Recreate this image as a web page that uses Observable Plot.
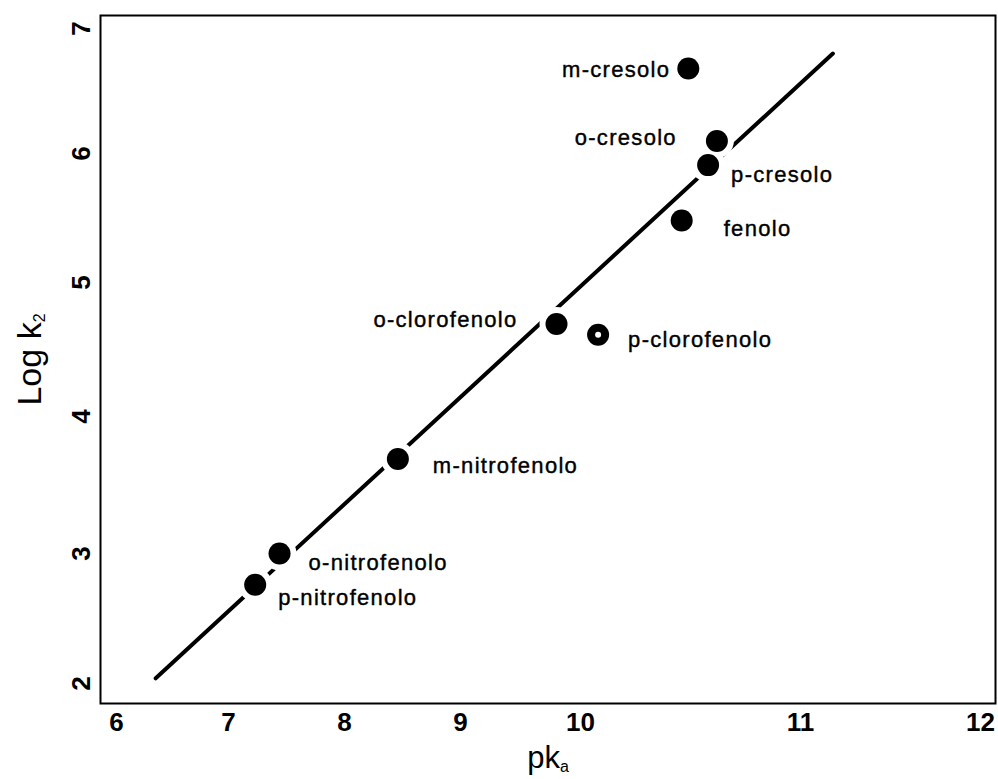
<!DOCTYPE html>
<html><head><meta charset="utf-8">
<script src="https://cdn.jsdelivr.net/npm/d3@7"></script>
<script src="https://cdn.jsdelivr.net/npm/@observablehq/plot@0.6"></script>
<style>
body{margin:0;background:#fff}
#chart svg{font-family:"Liberation Sans",Arial,Helvetica,sans-serif;color:#000;background:#fff}
#chart .lbl text{letter-spacing:1.3px}
</style></head><body><div id="chart"></div>
<script>
// data
const compounds = ["m-cresolo","o-cresolo","p-cresolo","fenolo","o-clorofenolo","p-clorofenolo","m-nitrofenolo","o-nitrofenolo","p-nitrofenolo"];
const pKa   = [10.49, 10.62, 10.58, 10.46, 9.80, 10.08, 8.46, 7.44, 7.23];
const logK2 = [6.68, 6.10, 5.91, 5.48, 4.69, 4.61, 3.69, 3.00, 2.76];
const hollow = ["p-clorofenolo"];
const fitPKa = [6.35, 11.18];
const fitLogK2 = [2.04, 6.80];
const xTicks = [6, 7, 8, 9, 10, 11, 12];
const yTicks = [2, 3, 4, 5, 6, 7];

// label placement (layout only)
const labelLayout = {
  "m-cresolo":     {anchor: "end",   dx: -18, dy: 1},
  "o-cresolo":     {anchor: "end",   dx: -40, dy: -3},
  "p-cresolo":     {anchor: "start", dx: 23,  dy: 10},
  "fenolo":        {anchor: "start", dx: 42,  dy: 8},
  "o-clorofenolo": {anchor: "end",   dx: -39, dy: -4},
  "p-clorofenolo": {anchor: "start", dx: 30,  dy: 5},
  "m-nitrofenolo": {anchor: "start", dx: 35,  dy: 7},
  "o-nitrofenolo": {anchor: "start", dx: 29,  dy: 9},
  "p-nitrofenolo": {anchor: "start", dx: 23,  dy: 13}
};

const points = compounds.map((name, i) => ({name, pKa: pKa[i], logK2: logK2[i]}));
const fit = fitPKa.map((x, i) => ({pKa: x, logK2: fitLogK2[i]}));

const labelMarks = points.map(p => {
  const L = labelLayout[p.name];
  return Plot.text([p], {x: "pKa", y: "logK2", text: "name", textAnchor: L.anchor,
    dx: L.dx, dy: L.dy, fontSize: 22, fill: "#000", stroke: "#000", strokeWidth: 0.4, className: "lbl"});
});

const chart = Plot.plot({
  width: 998,
  height: 779,
  marginLeft: 100,
  marginRight: 3,
  marginTop: 15,
  marginBottom: 76,
  style: {background: "#fff"},
  x: {type: "linear", domain: xTicks, range: [116, 228, 344, 460, 580, 800, 980]},
  y: {type: "linear", domain: yTicks, range: [683, 553, 416, 282, 153, 28]},
  marks: [
    Plot.frame({stroke: "#000", strokeWidth: 2}),
    Plot.axisX(xTicks, {tickSize: 0, tickPadding: 9, fontSize: 26, fontWeight: "bold", tickFormat: d3.format("d"), label: null}),
    Plot.axisY(yTicks, {tickSize: 0, tickPadding: 11, tickRotate: -90, fontSize: 26, fontWeight: "bold", tickFormat: d3.format("d"), label: null}),
    Plot.line(fit, {x: "pKa", y: "logK2", stroke: "#000", strokeWidth: 4}),
    Plot.dot(points, {x: "pKa", y: "logK2", r: 17, fill: "#fff"}),
    Plot.dot(points, {x: "pKa", y: "logK2", r: 11, fill: "#000"}),
    Plot.dot(points.filter(p => hollow.includes(p.name)), {x: "pKa", y: "logK2", r: 3, fill: "#fff"}),
    ...labelMarks,
    Plot.text(["pk"], {frameAnchor: "bottom", textAnchor: "middle", lineAnchor: "bottom", dy: 64, fontSize: 31, fill: "#000", className: "xtitle"}),
    Plot.text(["Log k"], {frameAnchor: "left", textAnchor: "middle", lineAnchor: "middle", rotate: -90, dx: -70, dy: 0, fontSize: 34, fill: "#000", className: "ytitle"})
  ]
});

// subscripts on the axis titles
d3.select(chart).select(".xtitle text").append("tspan").attr("font-size", 16).attr("baseline-shift", "-25%").text("a");
d3.select(chart).select(".ytitle text").append("tspan").attr("font-size", 16).attr("baseline-shift", "-25%").text("2");

document.getElementById("chart").appendChild(chart);
</script>
</body></html>
